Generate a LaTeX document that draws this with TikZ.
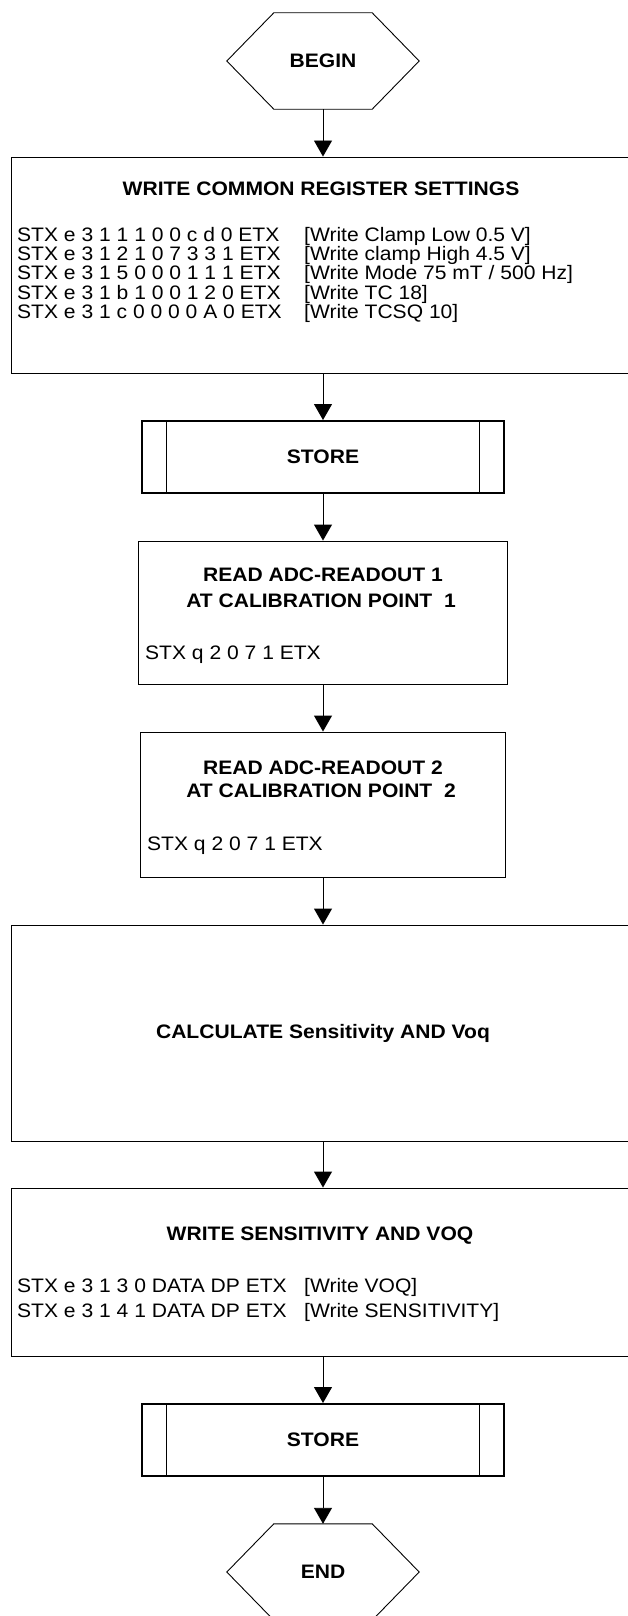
\documentclass[tikz,border=0pt]{standalone}
\usepackage{fontspec}
\setmainfont[FakeStretch=1.08]{Liberation Sans}
\usetikzlibrary{arrows.meta,calc}

\newcommand{\txtsize}{\fontsize{19.5bp}{23bp}\selectfont}

\tikzset{
	box/.style={draw, line width=0.9bp, inner sep=0pt},
	storebox/.style={draw, line width=2bp, inner sep=0pt, minimum width=361bp, minimum height=72bp, font=\txtsize\bfseries},
	term/.style={inner sep=0pt, minimum width=98bp, minimum height=96bp, font=\txtsize\bfseries},
	boxtitle/.style={inner sep=0pt, anchor=base, font=\txtsize\bfseries},
	cmdline/.style={inner sep=0pt, anchor=base west},
	flow/.style={line width=0.9bp, -{Triangle[width=18bp,length=16bp]}},
}

\begin{document}
\begin{tikzpicture}[x=1bp,y=-1bp,font=\txtsize]
	\useasboundingbox (0,0) rectangle (628,1616);

	% begin / end terminals
	\node[term] (begin) at (323,61) {BEGIN};
	\draw[line width=0.9bp] (begin.north west) -- (begin.north east) -- ($(begin.east)+(47,0)$) -- (begin.south east) -- (begin.south west) -- ($(begin.west)+(-47,0)$) -- cycle;
	\node[term] (end) at (323,1572) {END};
	\draw[line width=0.9bp] (end.north west) -- (end.north east) -- ($(end.east)+(47,0)$) -- (end.south east) -- (end.south west) -- ($(end.west)+(-47,0)$) -- cycle;

	% common register settings
	\node[box, minimum width=624bp, minimum height=216bp] (common) at (323,265) {};
	\node[boxtitle] (commontitle) at (321,195) {WRITE COMMON REGISTER SETTINGS};
	\foreach \y/\cmd/\note in {241/{STX e 3 1 1 1 0 0 c d 0 ETX}/{[Write Clamp Low 0.5 V]},
		260/{STX e 3 1 2 1 0 7 3 3 1 ETX}/{[Write clamp High 4.5 V]},
		279/{STX e 3 1 5 0 0 0 1 1 1 ETX}/{[Write Mode 75 mT / 500 Hz]},
		299/{STX e 3 1 b 1 0 0 1 2 0 ETX}/{[Write TC 18]},
		318/{STX e 3 1 c 0 0 0 0 A 0 ETX}/{[Write TCSQ 10]}}
	{
		\node[cmdline] (cmd\y) at (17,\y) {\cmd};
		\node[cmdline] (note\y) at (304,\y) {\note};
	}

	% store
	\node[storebox] (store1) at (323,457) {STORE};
	\draw[line width=0.9bp] ($(store1.north west)+(25,0)$) -- ($(store1.south west)+(25,0)$);
	\draw[line width=0.9bp] ($(store1.north east)+(-25,0)$) -- ($(store1.south east)+(-25,0)$);

	% readouts
	\node[box, minimum width=369bp, minimum height=143bp] (read1) at (323,612.5) {};
	\node[boxtitle] (read1a) at (323,581) {READ ADC-READOUT 1};
	\node[boxtitle] (read1b) at (321,607) {AT CALIBRATION POINT\ \ 1};
	\node[cmdline] (read1cmd) at (145,659) {STX q 2 0 7 1 ETX};

	\node[box, minimum width=365bp, minimum height=145bp] (read2) at (323,804.5) {};
	\node[boxtitle] (read2a) at (323,774) {READ ADC-READOUT 2};
	\node[boxtitle] (read2b) at (321,797) {AT CALIBRATION POINT\ \ 2};
	\node[cmdline] (read2cmd) at (147,850) {STX q 2 0 7 1 ETX};

	% calculation
	\node[box, minimum width=624bp, minimum height=216bp, font=\txtsize\bfseries] (calc) at (323,1033) {CALCULATE Sensitivity AND Voq};

	% write back
	\node[box, minimum width=624bp, minimum height=168bp] (wsens) at (323,1272) {};
	\node[boxtitle] (wsenstitle) at (320,1240) {WRITE SENSITIVITY AND VOQ};
	\node[cmdline] (wcmd1) at (17,1292) {STX e 3 1 3 0 DATA DP ETX};
	\node[cmdline] (wnote1) at (304,1292) {[Write VOQ]};
	\node[cmdline] (wcmd2) at (17,1317) {STX e 3 1 4 1 DATA DP ETX};
	\node[cmdline] (wnote2) at (304,1317) {[Write SENSITIVITY]};

	\node[storebox] (store2) at (323,1440) {STORE};
	\draw[line width=0.9bp] ($(store2.north west)+(25,0)$) -- ($(store2.south west)+(25,0)$);
	\draw[line width=0.9bp] ($(store2.north east)+(-25,0)$) -- ($(store2.south east)+(-25,0)$);

	% connectors
	\draw[flow] (begin.south) -- (common.north);
	\draw[flow] (common.south) -- (store1.north);
	\draw[flow] (store1.south) -- (read1.north);
	\draw[flow] (read1.south) -- (read2.north);
	\draw[flow] (read2.south) -- (calc.north);
	\draw[flow] (calc.south) -- (wsens.north);
	\draw[flow] (wsens.south) -- (store2.north);
	\draw[flow] (store2.south) -- (end.north);
\end{tikzpicture}
\end{document}
